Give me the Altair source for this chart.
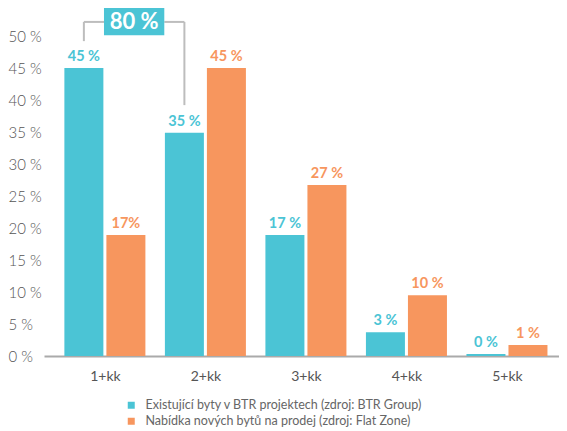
import altair as alt
import pandas as pd

categories = ["1+kk", "2+kk", "3+kk", "4+kk", "5+kk"]
series = [
    "Existující byty v BTR projektech (zdroj: BTR Group)",
    "Nabídka nových bytů na prodej (zdroj: Flat Zone)",
]
# bar heights as drawn (%), and the labels printed above them
btr_values = [45.0, 34.9, 18.9, 3.7, 0.3]
btr_labels = ["45 %", "35 %", "17 %", "3 %", "0 %"]
flat_values = [18.9, 45.0, 26.7, 9.5, 1.7]
flat_labels = ["17%", "45 %", "27 %", "10 %", "1 %"]
total_label = "80 %"
y_ticks = [0, 5, 10, 15, 20, 25, 30, 35, 40, 45, 50]

BLUE = "#4bc4d5"
ORANGE = "#f7965e"
GREY = "#bdbdbd"
FONT = "Lato"
OFF = 0.209  # half distance between the two bars of a group (in category units)

rows = []
for i, cat in enumerate(categories):
    rows.append({"pos": i - OFF, "value": btr_values[i], "label": btr_labels[i],
                 "series": series[0], "tc": BLUE})
    rows.append({"pos": i + OFF, "value": flat_values[i], "label": flat_labels[i],
                 "series": series[1], "tc": ORANGE})
df = pd.DataFrame(rows)

label_expr = "[" + ",".join("'%s'" % c for c in categories) + "][datum.value]"

# one x and one y definition shared by every layer
x_enc = alt.X("pos:Q",
              scale=alt.Scale(domain=[-0.556, 4.468], nice=False, zero=False),
              axis=alt.Axis(values=list(range(len(categories))), labelExpr=label_expr,
                            title=None, ticks=False, grid=False,
                            domainColor="#aaaaaa", domainWidth=2,
                            labelFont=FONT, labelFontSize=14, labelColor="#555555",
                            labelPadding=13))
y_enc = alt.Y("value:Q",
              scale=alt.Scale(domain=[0, 50], nice=False),
              axis=alt.Axis(values=y_ticks, labelExpr="datum.value + ' %'",
                            title=None, ticks=False, grid=False, domain=False,
                            labelAlign="left", labelPadding=36, labelBaseline="middle",
                            labelOverlap=False, tickCount=11,
                            labelFont=FONT, labelFontSize=15, labelColor="#555555",
                            labelFontWeight=300))

bars = alt.Chart(df).mark_bar(orient="vertical", size=39).encode(
    x=x_enc,
    y=y_enc,
    color=alt.Color("series:N",
                    scale=alt.Scale(domain=series, range=[BLUE, ORANGE]),
                    legend=alt.Legend(orient="none", legendX=81, legendY=363,
                                      title=None, symbolType="square", symbolSize=49,
                                      symbolStrokeWidth=0, labelFont=FONT,
                                      labelFontSize=12.5, labelColor="#666666",
                                      labelLimit=0, labelOffset=8, rowPadding=3,
                                      padding=0)),
)

labels = alt.Chart(df).mark_text(baseline="alphabetic", dy=-7, font=FONT,
                                 fontWeight="bold", fontSize=14.5).encode(
    x=x_enc,
    y=y_enc,
    text="label:N",
    color=alt.Color("tc:N", scale=None),
)

# bracket joining the first two BTR bars with their total
left = 0 - OFF
right = 1 - OFF
mid = (left + right) / 2
half_w = 0.30
bracket = pd.DataFrame([
    {"pos": left, "pos2": left, "value": 52.2, "value2": 49.2},
    {"pos": left, "pos2": mid - half_w, "value": 52.2, "value2": 52.2},
    {"pos": mid + half_w, "pos2": right, "value": 52.2, "value2": 52.2},
    {"pos": right, "pos2": right, "value": 52.2, "value2": 39.2},
])
rules = alt.Chart(bracket).mark_rule(color=GREY, strokeWidth=2).encode(
    x=x_enc, x2="pos2:Q", y=y_enc, y2="value2:Q",
)

box_df = pd.DataFrame([{"pos": mid - half_w, "pos2": mid + half_w,
                        "value": 54.375, "value2": 50.1}])
box = alt.Chart(box_df).mark_rect(color=BLUE).encode(
    x=x_enc, x2="pos2:Q", y=y_enc, y2="value2:Q",
)
total_df = pd.DataFrame([{"pos": mid, "value": 52.2, "t": total_label}])
box_text = alt.Chart(total_df).mark_text(color="white", font=FONT, fontWeight="bold",
                                         fontSize=22, baseline="middle").encode(
    x=x_enc, y=y_enc, text="t:N",
)

chart = (bars + labels + rules + box + box_text).properties(
    width=515, height=320,
    padding={"left": 36, "top": 28, "right": 0, "bottom": 71},
    autosize=alt.AutoSizeParams(type="none"),
).configure_view(stroke=None)

chart.save("out.html", embed_options={"renderer": "svg", "actions": False})
